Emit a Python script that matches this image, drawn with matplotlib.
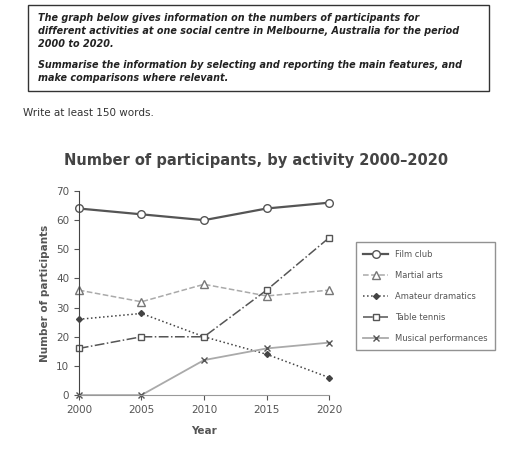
import matplotlib
matplotlib.use("Agg")
import matplotlib.pyplot as plt
from matplotlib.patches import Rectangle

years = [2000, 2005, 2010, 2015, 2020]
film_club = [64, 62, 60, 64, 66]
martial_arts = [36, 32, 38, 34, 36]
amateur_dramatics = [26, 28, 20, 14, 6]
table_tennis = [16, 20, 20, 36, 54]
musical_performances = [0, 0, 12, 16, 18]

fig = plt.figure(figsize=(5.12, 4.67), dpi=100)

# task prompt box
fig.patches.append(Rectangle((0.055, 0.805), 0.9, 0.185, transform=fig.transFigure,
                             fill=False, edgecolor="#333333", lw=1.0))
fig.text(0.075, 0.972, "The graph below gives information on the numbers of participants for\n"
         "different activities at one social centre in Melbourne, Australia for the period\n"
         "2000 to 2020.", va="top", ha="left", fontsize=6.9, style="italic",
         fontweight="bold", color="#222222", linespacing=1.35)
fig.text(0.075, 0.872, "Summarise the information by selecting and reporting the main features, and\n"
         "make comparisons where relevant.", va="top", ha="left", fontsize=6.9,
         style="italic", fontweight="bold", color="#222222", linespacing=1.35)
fig.text(0.045, 0.757, "Write at least 150 words.", fontsize=7.5, color="#333333", va="center")
fig.text(0.5, 0.657, "Number of participants, by activity 2000\u20132020", ha="center",
         va="center", fontsize=10.5, fontweight="bold", color="#444444")

ax = fig.add_axes([0.154, 0.154, 0.489, 0.437])
ax.plot(years, film_club, "-o", color="#555555", lw=1.6, ms=5.5, mfc="white", label="Film club")
ax.plot(years, martial_arts, "--^", color="#aaaaaa", lw=1.1, ms=5.5, mfc="white",
        mec="#777777", label="Martial arts")
ax.plot(years, amateur_dramatics, ":D", color="#444444", lw=1.1, ms=3, label="Amateur dramatics")
ax.plot(years, table_tennis, "-.s", color="#555555", lw=1.1, ms=5, mfc="white", label="Table tennis")
ax.plot(years, musical_performances, "-x", color="#aaaaaa", lw=1.3, ms=5, mec="#555555",
        label="Musical performances")

ax.set_xlim(2000, 2020)
ax.set_ylim(0, 70)
ax.set_xticks(years)
ax.set_yticks(range(0, 71, 10))
ax.spines["top"].set_visible(False)
ax.spines["right"].set_visible(False)
ax.spines["left"].set_color("#444444")
ax.spines["bottom"].set_color("#999999")
ax.tick_params(labelsize=7.5, colors="#555555")
ax.set_xlabel("Year", fontsize=7.5, fontweight="bold", color="#555555", labelpad=8)
ax.set_ylabel("Number of participants", fontsize=7.5, fontweight="bold", color="#555555")
for c in ax.get_children():
    try:
        c.set_clip_on(False)
    except AttributeError:
        pass

leg = ax.legend(loc="upper left", bbox_to_anchor=(1.09, 0.77), fontsize=6, frameon=True,
                fancybox=False, edgecolor="#777777", handlelength=3.0, labelspacing=1.45,
                borderpad=0.9, labelcolor="#555555")

fig.savefig("out.png", dpi=100)
